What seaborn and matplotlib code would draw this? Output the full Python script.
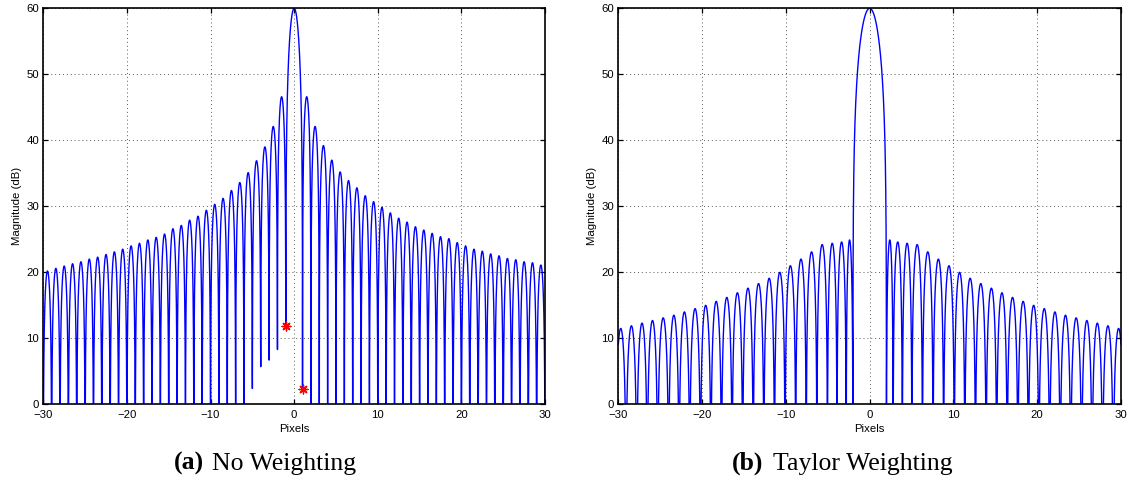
import numpy as np
import pandas as pd
import matplotlib
matplotlib.use("Agg")
import matplotlib.pyplot as plt
import seaborn as sns

# ---------------- data ----------------
# Panel (a): no weighting (sinc response), nulls at integer pixels
a_main_peak = 60.0
a_main_null = 1.0
# side-lobe peaks (dB), lobe k sits between k and k+1 pixels (k = 1..29)
a_peaks_left = [46.6, 42.1, 39.0, 36.9, 35.1, 33.6, 32.4, 31.2, 30.3, 29.4,
                28.5, 27.9, 27.1, 26.6, 25.8, 25.3, 24.9, 24.4, 24.0, 23.5,
                23.1, 22.7, 22.3, 22.0, 21.6, 21.3, 20.95, 20.6, 20.2]
a_peaks_right = [46.6, 42.1, 39.2, 37.0, 35.2, 33.9, 32.8, 31.6, 30.7, 29.85,
                 29.0, 28.2, 27.6, 26.9, 26.4, 25.9, 25.4, 25.1, 24.5, 24.0,
                 23.5, 23.2, 22.8, 22.5, 22.1, 21.9, 21.6, 21.45, 21.1]
# depth of the sampled nulls that stay above 0 dB
a_null_depth_left = [11.9, 8.3, 6.7, 5.7, 2.4]   # at x = -1 .. -5
a_null_depth_right = [2.3]                        # at x = +1
a_star_x = [-1.0, 1.0]
a_star_y = [11.9, 2.3]

# Panel (b): Taylor weighting
b_main_peak = 60.0
b_nulls_right = [2.0, 2.8, 3.9, 5.04, 6.3, 7.57, 8.83, 10.1, 11.36, 12.63,
                 13.9, 15.16, 16.42, 17.69, 18.95, 20.2, 21.48, 22.75, 24.0,
                 25.3, 26.55, 27.8, 29.08, 30.35]
b_peaks = [24.9, 24.6, 24.4, 24.2, 23.1, 22.0, 21.0, 20.0, 19.1, 18.3,
           17.6, 16.9, 16.2, 15.6, 15.0, 14.5, 14.0, 13.5, 13.1, 12.7,
           12.3, 11.9, 11.5]

x_ticks = [-30, -20, -10, 0, 10, 20, 30]
y_ticks = [0, 10, 20, 30, 40, 50, 60]
captions = [("(a)", "No Weighting"), ("(b)", "Taylor Weighting")]

FLOOR = -60.0
N = 300


def lobe(x0, x1, peak, d0, d1):
    t = np.linspace(0.0, 1.0, N)
    y = peak + 20 * np.log10(np.maximum(np.sin(np.pi * t), 1e-9))
    y = np.where(t < 0.5, np.maximum(y, d0), np.maximum(y, d1))
    return x0 + t * (x1 - x0), y


def main_lobe(w, peak, d0, d1):
    x = np.linspace(-w, w, 2 * N)
    y = peak + 20 * np.log10(np.maximum(np.abs(np.sinc(x / w)), 1e-9))
    y = np.where(x < 0, np.maximum(y, d0), np.maximum(y, d1))
    return x, y


# ---- build panel (a) curve ----
def depth_a(x):
    k = int(round(abs(x)))
    if x < 0 and k <= len(a_null_depth_left):
        return a_null_depth_left[k - 1]
    if x > 0 and k <= len(a_null_depth_right):
        return a_null_depth_right[k - 1]
    return FLOOR


xs, ys = [], []
for k in range(len(a_peaks_left), 0, -1):
    x, y = lobe(-(k + 1), -k, a_peaks_left[k - 1], depth_a(-(k + 1)), depth_a(-k))
    xs.append(x); ys.append(y)
x, y = main_lobe(a_main_null, a_main_peak, depth_a(-1), depth_a(1))
xs.append(x); ys.append(y)
for k in range(1, len(a_peaks_right) + 1):
    x, y = lobe(k, k + 1, a_peaks_right[k - 1], depth_a(k), depth_a(k + 1))
    xs.append(x); ys.append(y)
df_a = pd.DataFrame({"x": np.concatenate(xs), "y": np.concatenate(ys)})

# ---- build panel (b) curve ----
xs, ys = [], []
for i in range(len(b_peaks) - 1, -1, -1):
    x, y = lobe(-b_nulls_right[i + 1], -b_nulls_right[i], b_peaks[i], FLOOR, FLOOR)
    xs.append(x); ys.append(y)
x, y = main_lobe(b_nulls_right[0], b_main_peak, FLOOR, FLOOR)
xs.append(x); ys.append(y)
for i in range(len(b_peaks)):
    x, y = lobe(b_nulls_right[i], b_nulls_right[i + 1], b_peaks[i], FLOOR, FLOOR)
    xs.append(x); ys.append(y)
df_b = pd.DataFrame({"x": np.concatenate(xs), "y": np.concatenate(ys)})

df_star = pd.DataFrame({"x": a_star_x, "y": a_star_y})

# ---------------- drawing ----------------
sns.set_theme(style="white")
plt.rcParams["font.family"] = ["Liberation Sans", "DejaVu Sans"]
plt.rcParams["axes.unicode_minus"] = True
for key in ("text.color", "axes.labelcolor", "xtick.color", "ytick.color",
            "xtick.labelcolor", "ytick.labelcolor"):
    plt.rcParams[key] = "black"

fig = plt.figure(figsize=(11.29, 4.8), dpi=100)
ax1 = fig.add_axes([0.03835, 0.1577, 0.4444, 0.825])
ax2 = fig.add_axes([0.5477, 0.1577, 0.4452, 0.825])

sns.lineplot(data=df_a, x="x", y="y", ax=ax1, color="#0000ff", lw=1.0,
             estimator=None, sort=False)
sns.scatterplot(data=df_star, x="x", y="y", ax=ax1, color="red",
                marker=(8, 2, 0), s=40, linewidth=1.0, zorder=5)
sns.lineplot(data=df_b, x="x", y="y", ax=ax2, color="#0000ff", lw=1.0,
             estimator=None, sort=False)

for ax in (ax1, ax2):
    ax.set_xlim(-30, 30)
    ax.set_ylim(0, 60)
    ax.set_xticks(x_ticks)
    ax.set_yticks(y_ticks)
    ax.grid(True, linestyle=(0, (1, 3)), linewidth=0.7, color="0.35")
    ax.tick_params(direction="in", top=True, right=True, length=3.5,
                   width=0.9, color="black", labelcolor="black",
                   labelsize=8.2, pad=4, bottom=True, left=True)
    ax.tick_params(axis="y", pad=3)
    for s in ax.spines.values():
        s.set_visible(True)
        s.set_color("black")
        s.set_linewidth(1.2)
    ax.set_xlabel("Pixels", fontsize=8.2, labelpad=3, color="black")
    ax.set_ylabel("Magnitude (dB)", fontsize=8.2, labelpad=3, color="black")
    ax.set_facecolor("white")

serif = ["Liberation Serif", "DejaVu Serif"]
cap_pos = [(174 / 1129, 212.3 / 1129), (731.7 / 1129, 773.3 / 1129)]
for (lab, txt), (xl, xt) in zip(captions, cap_pos):
    fig.text(xl, 1 - 470 / 480, lab, family=serif, fontweight="bold",
             fontsize=18.5, ha="left", va="baseline", color="black")
    fig.text(xt, 1 - 470 / 480, txt, family=serif, fontsize=18.5,
             ha="left", va="baseline", color="black")

fig.savefig("out.png", dpi=100, facecolor="white")
